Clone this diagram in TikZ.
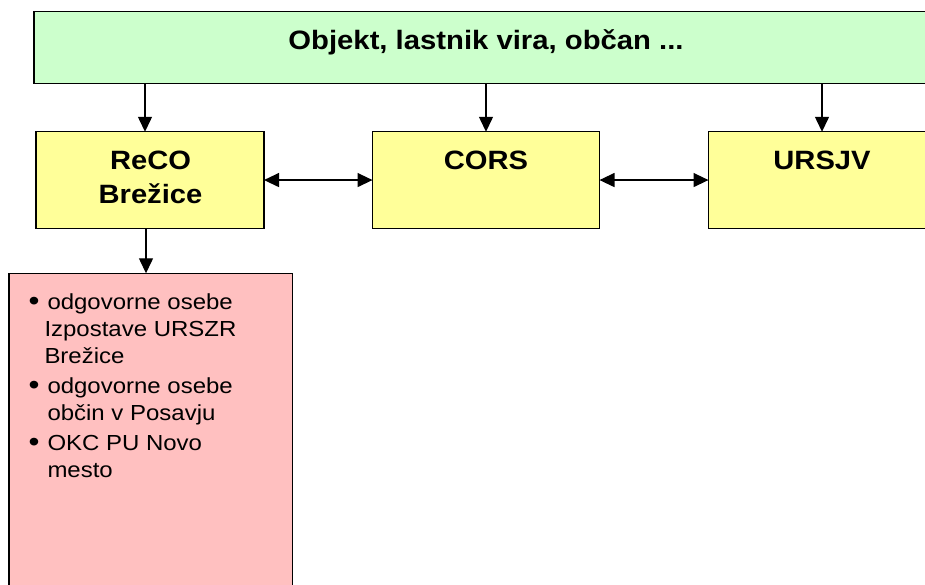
\documentclass[tikz,border=0pt]{standalone}
\usepackage{fontspec}
\setmainfont{Liberation Sans}[FakeStretch=1.1]
\usetikzlibrary{arrows.meta}
\definecolor{gfill}{HTML}{CCFFCC}
\definecolor{yfill}{HTML}{FFFF99}
\definecolor{pfill}{HTML}{FFC0C0}
\newcommand{\mybul}{\raisebox{-1.2pt}{\scalebox{1.3}{•}}}
\begin{document}
\begin{tikzpicture}[x=1pt,y=-1pt,
  box/.style={draw=black,line width=1.4pt,inner sep=0pt,outer sep=0pt,anchor=north west},
  arr/.style={line width=1.3pt,-{Triangle[length=15pt,width=14pt]}},
  darr/.style={line width=1.3pt,{Triangle[length=15pt,width=14pt]}-{Triangle[length=15pt,width=14pt]}},
  ytext/.style={anchor=base,inner sep=0pt,font=\fontsize{26.5}{34}\selectfont\bfseries},
]
\useasboundingbox (0,0) rectangle (925,585);
\clip (0,0) rectangle (925,585);
% boxes
\node[box,fill=gfill,minimum width=904pt,minimum height=71.5pt] (obj) at (34,11.8) {};
\node[box,fill=yfill,minimum width=228pt,minimum height=96.5pt] (reco) at (36,131.8) {};
\node[box,fill=yfill,minimum width=227pt,minimum height=96.5pt] (cors) at (372.5,131.8) {};
\node[box,fill=yfill,minimum width=227pt,minimum height=96.5pt] (ursjv) at (708.5,131.8) {};
\node[box,fill=pfill,minimum width=283.3pt,minimum height=340pt] (okc) at (9,273.3) {};
% texts
\node[anchor=base,inner sep=0pt,font=\fontsize{26.6}{32}\selectfont\bfseries] (title) at (486,50) {Objekt, lastnik vira, občan ...};
\node[ytext] (recot) at (150.5,170) {\begin{tabular}[t]{@{}c@{}}ReCO\\Brežice\end{tabular}};
\node[ytext] (corst) at (486,170) {CORS};
\node[ytext] (ursjvt) at (822,170) {URSJV};
\node[anchor=base west,inner sep=0pt,font=\fontsize{21.8}{27}\selectfont] (list) at (28.5,309)
{\begin{tabular}[t]{@{}l@{}l@{}}
\makebox[18.8pt][l]{\mybul} & odgovorne osebe\\
 & \hspace*{-3pt}Izpostave URSZR\\
 & \hspace*{-3pt}Brežice\\[3pt]
\mybul & odgovorne osebe\\
 & občin v Posavju\\[3pt]
\mybul & OKC PU Novo\\
 & mesto
\end{tabular}};
% connectors
\coordinate (xa) at (145,0);
\coordinate (xb) at (146,0);
\draw[arr] (obj.south -| xa) -- (reco.north -| xa);
\draw[arr] (obj.south -| cors.north) -- (cors.north);
\draw[arr] (obj.south -| ursjv.north) -- (ursjv.north);
\draw[darr] (reco.east) -- (cors.west);
\draw[darr] (cors.east) -- (ursjv.west);
\draw[arr] (reco.south -| xb) -- (okc.north -| xb);
\end{tikzpicture}
\end{document}
